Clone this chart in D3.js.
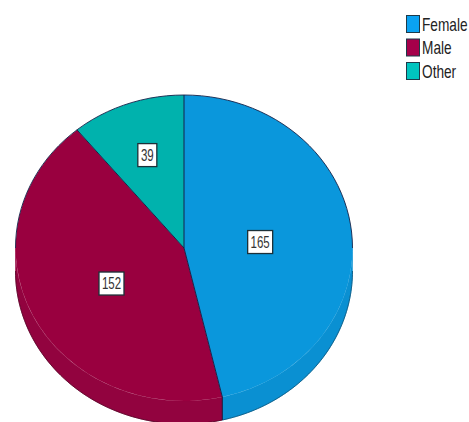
<!DOCTYPE html>
<html>
<head>
<meta charset="utf-8">
<script src="https://cdn.jsdelivr.net/npm/d3@7/dist/d3.min.js"></script>
<style>
  html, body { margin: 0; padding: 0; background: #fff; }
  svg { display: block; }
  text { font-family: "Liberation Sans", sans-serif; }
</style>
</head>
<body>
<svg id="chart" width="469" height="422"></svg>
<script>
const categories = ["Female", "Male", "Other"];
const counts = [165, 152, 39];
const faceColors = ["#0a97dc", "#99003f", "#00b2ad"];
const wallColors = ["#0a90d2", "#92033f", "#009793"];
const swatchColors = ["#0aa2f2", "#a5004a", "#00c4bf"];

const centerX = 184, centerY = 248;
const radiusX = 168.5, radiusY = 153, depth = 23;
// Where each value label sits: fraction of the radius, then a small drop in pixels.
const labelReach = [0.455, 0.48, 0.645];
const labelDrop = [2, 3, 0];
const outline = "#14234a";

const svg = d3.select("#chart");
const pie = d3.pie().sort(null)(counts);
const arc = d3.arc().innerRadius(0).outerRadius(1);

const xScale = d3.scaleLinear().domain([-1, 1]).range([centerX - radiusX, centerX + radiusX]);
const yScale = d3.scaleLinear().domain([-1, 1]).range([centerY - radiusY, centerY + radiusY]);
const edgePoint = a => [xScale(Math.sin(a)), yScale(-Math.cos(a))];
const sweep = (from, to) => d3.range(0, 61).map(k => edgePoint(from + (to - from) * k / 60));

// Extruded rim: only the part of the edge facing the viewer, the lower half.
const rim = svg.append("g");
pie.forEach((slice, i) => {
  const from = Math.max(slice.startAngle, Math.PI / 2);
  const to = Math.min(slice.endAngle, 3 * Math.PI / 2);
  if (from >= to) return;
  const edge = sweep(from, to);
  const lowered = edge.map(([x, y]) => [x, y + depth]).reverse();
  rim.append("path")
    .attr("d", d3.line()(edge.concat(lowered)) + "Z")
    .attr("fill", wallColors[i])
    .attr("stroke", wallColors[i])
    .attr("stroke-width", 0.5);
  // Dark line along the outer lower edge of the rim.
  rim.append("path")
    .attr("d", d3.line()(lowered))
    .attr("fill", "none")
    .attr("stroke", d3.color(wallColors[i]).darker(1.6))
    .attr("stroke-width", 0.8);
});

// Top face of the pie, unit arcs stretched onto the ellipse.
const face = svg.append("g")
  .attr("transform", `translate(${centerX},${centerY}) scale(${radiusX},${radiusY})`);
face.selectAll("path").data(pie).join("path")
  .attr("d", arc)
  .attr("fill", (d, i) => faceColors[i]);

// Outline of the upper half of the face; the lower half fades into the rim.
svg.append("path")
  .attr("d", d3.line()(sweep(-Math.PI / 2, Math.PI / 2)))
  .attr("fill", "none")
  .attr("stroke", outline)
  .attr("stroke-width", 0.9);

// Slice boundaries, carried on down the rim where they reach the front.
pie.forEach(slice => {
  const a = slice.endAngle;
  const [x, y] = edgePoint(a);
  const front = a > Math.PI / 2 && a < 3 * Math.PI / 2;
  svg.append("path")
    .attr("d", d3.line()([[centerX, centerY], [x, y]].concat(front ? [[x, y + depth]] : [])))
    .attr("fill", "none")
    .attr("stroke", outline)
    .attr("stroke-width", 1);
});

// Boxed value labels.
const labels = svg.append("g");
pie.forEach((slice, i) => {
  const mid = (slice.startAngle + slice.endAngle) / 2;
  const x = xScale(Math.sin(mid) * labelReach[i]);
  const y = yScale(-Math.cos(mid) * labelReach[i]) + labelDrop[i];
  const w = counts[i] >= 100 ? 25 : 19;
  const h = 23;
  labels.append("rect")
    .attr("x", x - w / 2).attr("y", y - h / 2)
    .attr("width", w).attr("height", h)
    .attr("fill", "#fff").attr("stroke", "#1c3038").attr("stroke-width", 1.3);
  labels.append("text")
    .attr("transform", `translate(${x},${y + 5.5}) scale(0.72,1)`)
    .attr("text-anchor", "middle")
    .attr("font-size", 16)
    .attr("fill", "#333")
    .text(counts[i]);
});

// Legend.
const legendY = d3.scalePoint().domain(categories).range([24, 71]);
const legend = svg.append("g");
categories.forEach((name, i) => {
  const y = legendY(name);
  legend.append("rect")
    .attr("x", 406.5).attr("y", y - 8.5)
    .attr("width", 13).attr("height", 17)
    .attr("fill", swatchColors[i])
    .attr("stroke", "#1d3a4a").attr("stroke-width", 1);
  legend.append("text")
    .attr("transform", `translate(422,${y + 6.5}) scale(0.76,1)`)
    .attr("font-size", 18)
    .attr("fill", "#222")
    .text(name);
});
</script>
</body>
</html>
